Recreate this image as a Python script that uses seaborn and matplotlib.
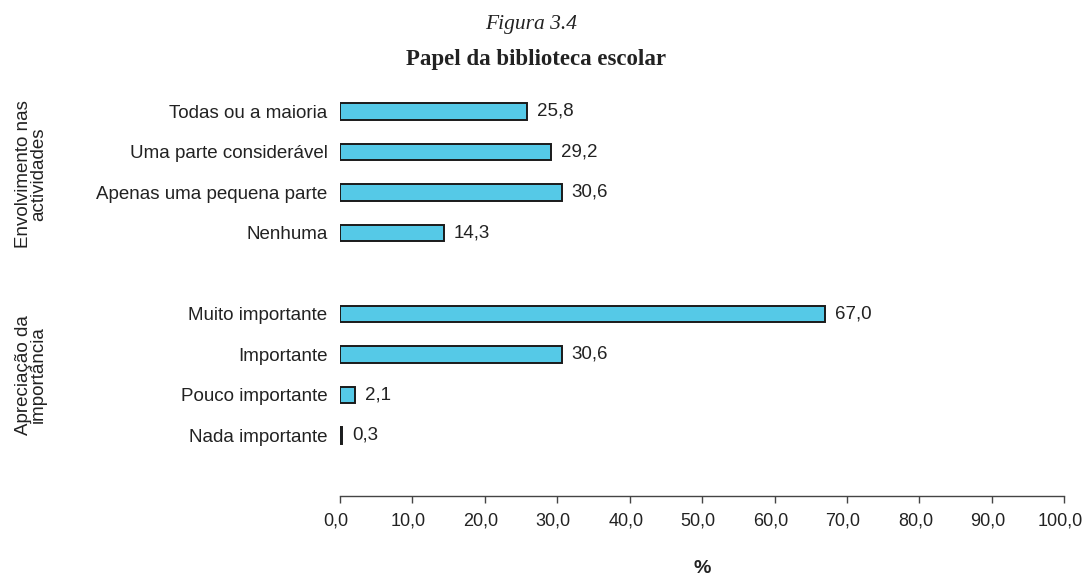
import matplotlib
matplotlib.use("Agg")
import matplotlib.pyplot as plt
import matplotlib.transforms as mtransforms
import seaborn as sns
import pandas as pd

# Data
activity_labels = ["Todas ou a maioria", "Uma parte considerável",
                   "Apenas uma pequena parte", "Nenhuma"]
activity_values = [25.8, 29.2, 30.6, 14.3]
importance_labels = ["Muito importante", "Importante",
                     "Pouco importante", "Nada importante"]
importance_values = [67.0, 30.6, 2.1, 0.3]
group_labels = ["Envolvimento nas\nactividades", "Apreciação da\nimportância"]
x_ticks = [0, 10, 20, 30, 40, 50, 60, 70, 80, 90, 100]

df = pd.DataFrame({
    "categoria": activity_labels + importance_labels,
    "valor": activity_values + importance_values,
})
spacer = " "
order = activity_labels + [spacer] + importance_labels

sns.set_theme(style="white")
plt.rcParams["font.family"] = ["Liberation Sans", "DejaVu Sans"]
ink = "#222222"

fig = plt.figure(figsize=(10.83, 5.77), dpi=100)
ax = fig.add_axes([0.314, 0.140, 0.6686, 0.702])

sns.barplot(data=df, y="categoria", x="valor", order=order, orient="h",
            width=0.4, color="#55C9E7", saturation=1,
            edgecolor="#1a1a1a", linewidth=1.4, ax=ax)

for cont in ax.containers:
    labs = [f"{w:.1f}".replace(".", ",") for w in cont.datavalues]
    ax.bar_label(cont, labels=labs, padding=7, fontsize=13.5, color=ink)

ax.set_xlim(0, 100)
ax.set_ylim(9.5, -0.5)
ax.set_xticks(x_ticks)
ax.set_xticklabels([f"{t:.1f}".replace(".", ",") for t in x_ticks], fontsize=13)
ax.tick_params(axis="x", direction="out", length=5, width=1, color="#444444",
               pad=7, bottom=True, labelcolor=ink)
ax.tick_params(axis="y", length=0, pad=9, labelsize=13.5, labelcolor=ink)
# nudge the percentage labels slightly left so the last one fits
shift = mtransforms.ScaledTranslation(-4 / 100, 0, fig.dpi_scale_trans)
for lab in ax.get_xticklabels():
    lab.set_transform(lab.get_transform() + shift)

ax.set_ylabel("")
ax.set_xlabel("%", fontsize=14, fontweight="bold", color=ink, va="center")
ax.xaxis.set_label_coords(0.5, -0.178)
for s in ["left", "right", "top"]:
    ax.spines[s].set_visible(False)
ax.spines["bottom"].set_color("#444444")
ax.spines["bottom"].set_linewidth(1.0)

# group labels on the far left
fig.text(0.0285, 1 - 174 / 577, group_labels[0], rotation=90, ha="center",
         va="center", fontsize=13.5, color=ink, linespacing=0.9)
fig.text(0.0285, 1 - 375 / 577, group_labels[1], rotation=90, ha="center",
         va="center", fontsize=13.5, color=ink, linespacing=0.9)

# titles
fig.text(531 / 1083, 1 - 24 / 577, "Figura 3.4", ha="center", va="center",
         family=["Liberation Serif"], style="italic", fontsize=15.5, color=ink)
fig.text(536 / 1083, 1 - 59 / 577, "Papel da biblioteca escolar", ha="center",
         va="center", family=["Liberation Serif"], fontweight="bold",
         fontsize=16.5, color=ink)

fig.savefig("out.png", dpi=100)
